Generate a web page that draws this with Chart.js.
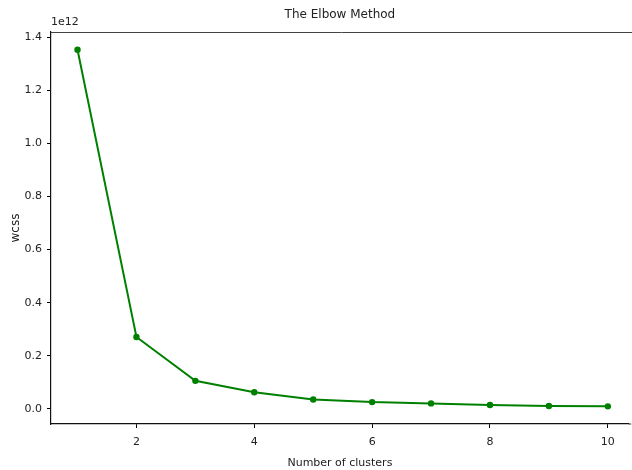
<!DOCTYPE html>
<html>
<head>
<meta charset="utf-8">
<script src="https://cdn.jsdelivr.net/npm/chart.js@4"></script>
<style>
html,body{margin:0;padding:0;background:#fff;}
#wrap{width:632px;height:470px;position:relative;}
</style>
</head>
<body>
<div id="wrap"><canvas id="c" width="632" height="470"></canvas></div>
<script>
const clusters = [1, 2, 3, 4, 5, 6, 7, 8, 9, 10];
const wcss = [1.352e12, 0.271e12, 0.106e12, 0.063e12, 0.036e12, 0.026e12, 0.021e12, 0.015e12, 0.011e12, 0.010e12];
const xTicks = [2, 4, 6, 8, 10];
const yTicks = [0, 0.2e12, 0.4e12, 0.6e12, 0.8e12, 1.0e12, 1.2e12, 1.4e12];
const titleText = 'The Elbow Method';
const xLabel = 'Number of clusters';
const yLabel = 'wcss';
const offsetText = '1e12';

const FONT = 'DejaVu Sans';

const decor = {
  id: 'decor',
  afterDraw(chart) {
    const ctx = chart.ctx, a = chart.chartArea;
    ctx.save();
    ctx.strokeStyle = '#444';
    ctx.lineWidth = 1;
    ctx.beginPath();
    ctx.moveTo(a.left, a.top + 0.5);
    ctx.lineTo(chart.width, a.top + 0.5);
    ctx.stroke();
    // extend bottom spine to the right edge
    ctx.strokeStyle = '#111';
    ctx.lineWidth = 1.2;
    ctx.setLineDash([2, 1]);
    ctx.beginPath();
    ctx.moveTo(a.right, a.bottom);
    ctx.lineTo(chart.width, a.bottom);
    ctx.stroke();
    ctx.setLineDash([]);
    ctx.fillStyle = '#222';
    ctx.font = '12px "' + FONT + '"';
    ctx.textAlign = 'center';
    ctx.textBaseline = 'middle';
    ctx.fillText(titleText, (a.left + a.right) / 2, 15);
    ctx.font = '11px "' + FONT + '"';
    ctx.textAlign = 'left';
    ctx.fillText(offsetText, a.left, 22);
    ctx.translate(16, (a.top + a.bottom) / 2);
    ctx.rotate(-Math.PI / 2);
    ctx.textAlign = 'center';
    ctx.font = '12px "' + FONT + '"';
    ctx.fillText(yLabel, 0, 0);
    ctx.restore();
  }
};

new Chart(document.getElementById('c'), {
  type: 'line',
  data: {
    datasets: [{
      data: clusters.map((x, i) => ({x: x, y: wcss[i]})),
      borderColor: '#008000',
      backgroundColor: '#008000',
      borderWidth: 2,
      pointRadius: 3.2,
      pointHoverRadius: 3.2,
      pointBorderWidth: 0,
      tension: 0
    }]
  },
  options: {
    responsive: false,
    animation: false,
    layout: {padding: {top: 32, right: 0, left: 0, bottom: 0}},
    plugins: {legend: {display: false}, tooltip: {enabled: false}, title: {display: false}},
    scales: {
      x: {
        type: 'linear',
        min: 0.55,
        max: 10.356,
        afterBuildTicks: s => { s.ticks = xTicks.map(v => ({value: v})); },
        afterFit: s => { s.height = 46; },
        grid: {drawOnChartArea: false, drawTicks: true, tickLength: 4, color: '#000', tickColor: '#000'},
        border: {display: true, color: '#111', width: 1.2, dash: [2, 1]},
        ticks: {color: '#222', font: {family: FONT, size: 11}, padding: 8, maxRotation: 0,
          callback: v => String(v)},
        title: {display: true, text: xLabel, color: '#222', font: {family: FONT, size: 11}, padding: {top: 0, bottom: 0}}
      },
      y: {
        type: 'linear',
        min: -0.0565e12,
        max: 1.419e12,
        afterBuildTicks: s => { s.ticks = yTicks.map(v => ({value: v})); },
        afterFit: s => { s.width = 51; },
        grid: {drawOnChartArea: false, drawTicks: true, tickLength: 4, color: '#000', tickColor: '#000'},
        border: {display: true, color: '#111', width: 1.2},
        ticks: {color: '#222', font: {family: FONT, size: 11}, padding: 5,
          callback: v => (v / 1e12).toFixed(1)},
        title: {display: false}
      }
    }
  },
  plugins: [decor]
});
</script>
</body>
</html>
